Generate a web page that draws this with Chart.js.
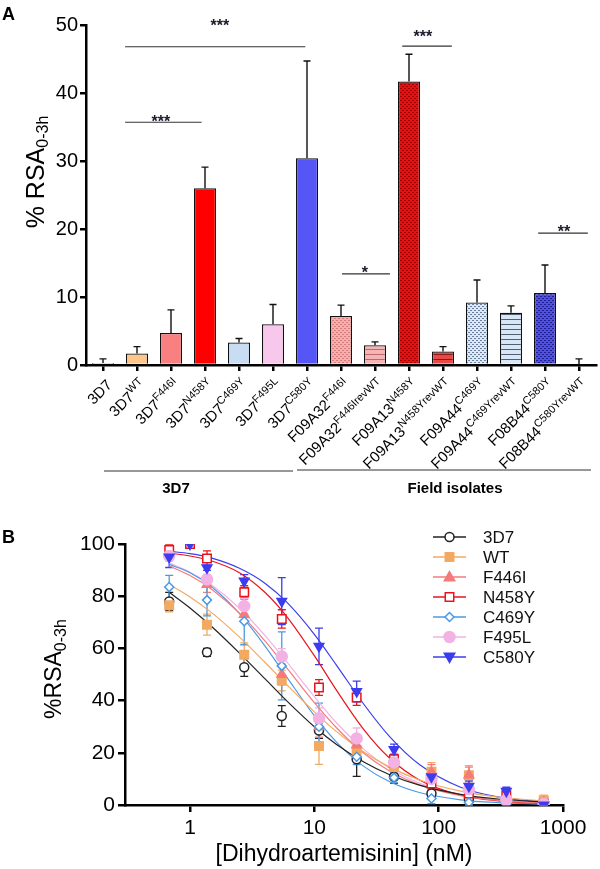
<!DOCTYPE html>
<html lang="en">
<head>
<meta charset="UTF-8" />
<title>RSA of K13 mutants</title>
<script src="https://cdn.jsdelivr.net/npm/chart.js"></script>
<style>
  body { margin: 0; background: #fff; }
  #wrapA { position: absolute; left: 0; top: 0; width: 600px; height: 505px; }
  #wrapB { position: absolute; left: 0; top: 505px; width: 600px; height: 364px; }
</style>
</head>
<body>
<div id="wrapA"><canvas id="rsaBars"></canvas></div>
<div id="wrapB"><canvas id="doseCurves"></canvas></div>

<script>
// ---- panel A data ----
const strainBase = ['3D7','3D7','3D7','3D7','3D7','3D7','3D7','F09A32','F09A32','F09A13','F09A13','F09A44','F09A44','F08B44','F08B44'];
const strainSup = ['','WT','F446I','N458Y','C469Y','F495L','C580Y','F446I','F446IrevWT','N458Y','N458YrevWT','C469Y','C469YrevWT','C580Y','C580YrevWT'];
const rsaMean = [0.3, 1.7, 4.7, 26.0, 3.3, 6.0, 30.4, 7.2, 2.9, 41.7, 2.0, 9.2, 7.7, 10.6, 0];
const rsaErr = [0.6, 1.0, 3.4, 3.1, 0.6, 2.9, 14.3, 1.6, 0.5, 4.0, 0.7, 3.3, 1.0, 4.1, 0.9];

// significance brackets (category index units / % RSA units)
const sigStart = [0.65, 0.65, 8.8, 7.03, 12.8];
const sigEnd = [5.95, 2.9, 10.26, 8.44, 14.26];
const sigLevel = [46.8, 35.7, 46.9, 13.4, 19.4];
const sigMark = ['***', '***', '***', '*', '**'];
const sigMarkX = [3.44, 1.7, 9.41, 7.7, 13.56];
const sigMarkY = [50.4, 36.3, 48.8, 14.1, 20.1];

// ---- panel B data ----
const conc = [0.68, 1, 1.37, 2.73, 5.47, 10.9, 21.9, 43.75, 87.5, 175, 350, 700];
const rsa3D7 = [78, null, 58.5, 52.8, 34.1, 28.5, 17.5, 10.8, 4.4, 2.5, 1.0, 0.3];
const sd3D7 = [3.5, null, 1.5, 3.5, 4, 3, 6.5, 2.5, 1.2, 1, 0.5, 0.5];
const rsaWT = [76.5, null, 69.1, 57.6, 47.7, 22.6, 21.0, 14.6, 12.7, 11.4, 2.0, 1.8];
const sdWT = [2.5, null, 4, 4.5, 4, 7, 3, 3, 3.5, 3, 1, 2];
const rsaF446I = [96.5, null, 84.5, 73, 50, 30, 23, 15.5, 12.5, 11.5, 3, 1];
const sdF446I = [2, null, 3, 3, 4, 4, 3, 3, 3, 3.5, 1, 1];
const rsaN458Y = [97.7, 100, 94.4, 81.5, 71.3, 45.0, 41.2, 17.5, 8.2, 4.4, 3.7, 0.5];
const sdN458Y = [2, 0, 3, 2.5, 3.5, 3, 3, 2, 2, 1.5, 1, 1];
const rsaC469Y = [83.5, null, 78.5, 70.4, 53.3, 30.0, 18.5, 10.5, 2.5, 1.0, 0.5, 0.3];
const sdC469Y = [4.5, null, 6, 9, 13, 9, 3, 2, 2, 1, 0.5, 0.5];
const rsaF495L = [95.4, null, 86.4, 76.2, 56.9, 33.2, 25.5, 16.3, 10, 6, 2, 0.5];
const sdF495L = [2, null, 2, 3, 3, 4, 4, 3, 3, 2, 1, 1];
const rsaC580Y = [95.0, 100, 90.9, 85.8, 78.1, 60.8, 43.5, 21.3, 10.8, 7.2, 5.3, 0];
const sdC580Y = [4, 0, 1, 2.5, 9, 7, 4, 2, 3, 2, 1.5, 0.5];

// fitted curves
const fitConc = [0.68, 1, 1.5, 2.5, 4, 6, 10, 15, 25, 40, 70, 150, 300, 700];
const fit3D7 = [81.5, 75.5, 68.3, 58.2, 48.4, 39.9, 30.0, 23.3, 16.5, 11.7, 7.6, 4.1, 2.3, 1.1];
const fitWT = [84.5, 79.7, 73.6, 64.3, 54.7, 46.1, 35.7, 28.2, 20.3, 14.6, 9.6, 5.3, 3.0, 1.5];
const fitF446I = [91.6, 87.9, 82.6, 73.5, 62.9, 52.5, 39.2, 29.7, 19.8, 13.1, 7.7, 3.6, 1.8, 0.7];
const fitN458Y = [96.5, 95.4, 93.5, 89.0, 81.5, 72.2, 57.2, 44.1, 28.9, 18.1, 9.6, 3.8, 1.6, 0.5];
const fitC469Y = [92.2, 89.0, 83.5, 73.3, 61.0, 49.0, 34.2, 24.2, 14.8, 9.0, 4.8, 2.0, 0.9, 0.3];
const fitF495L = [92.8, 89.2, 84.2, 75.4, 65.0, 54.8, 41.5, 31.6, 21.3, 14.2, 8.4, 4.0, 2.0, 0.8];
const fitC580Y = [97.2, 96.3, 94.6, 90.7, 85.0, 77.7, 65.4, 53.7, 38.6, 26.4, 15.5, 6.8, 3.1, 1.1];

const FONT = 'Arial, "Liberation Sans", sans-serif';

// ---- fills for panel A ----
function dotPattern(base, dot) {
  const c = document.createElement('canvas');
  c.width = 4; c.height = 4;
  const g = c.getContext('2d');
  g.fillStyle = base; g.fillRect(0, 0, 4, 4);
  g.fillStyle = dot;
  g.fillRect(0, 0, 2, 1); g.fillRect(2, 2, 2, 1);
  return g.createPattern(c, 'repeat');
}
function stripePattern(base, line) {
  const c = document.createElement('canvas');
  c.width = 4; c.height = 5;
  const g = c.getContext('2d');
  g.fillStyle = base; g.fillRect(0, 0, 4, 5);
  g.fillStyle = line; g.fillRect(0, 4, 4, 1);
  return g.createPattern(c, 'repeat');
}

const barFills = [
  '#ffffff', '#fdc78c', '#f88080', '#ff0000', '#c8dcf4', '#f7c7ec', '#5656f6',
  dotPattern('#f4b0b0', '#d77a7a'), stripePattern('#f6b4b4', '#b86a6a'),
  dotPattern('#e81010', '#a00000'), stripePattern('#e84848', '#8a1a1a'),
  dotPattern('#dce8f7', '#6a7f99'), stripePattern('#d8e6f6', '#4f5f78'),
  dotPattern('#5050e8', '#20208a'), '#ffffff'
];

const panelA = {
  id: 'panelA',
  afterDatasetsDraw(chart) {
    const ctx = chart.ctx, xs = chart.scales.x, ys = chart.scales.y;
    ctx.save();
    ctx.strokeStyle = '#111';
    ctx.lineWidth = 1.4;
    rsaMean.forEach((m, i) => {
      const x = xs.getPixelForValue(i);
      const y0 = ys.getPixelForValue(m);
      const y1 = ys.getPixelForValue(m + rsaErr[i]);
      ctx.beginPath();
      ctx.moveTo(x, y0); ctx.lineTo(x, y1);
      ctx.moveTo(x - 3.5, y1); ctx.lineTo(x + 3.5, y1);
      ctx.stroke();
    });
    // brackets
    ctx.strokeStyle = '#333';
    ctx.lineWidth = 1.2;
    ctx.fillStyle = '#1a1a2a';
    ctx.textAlign = 'center';
    ctx.textBaseline = 'middle';
    ctx.font = 'bold 16px ' + FONT;
    sigStart.forEach((s, i) => {
      const y = ys.getPixelForValue(sigLevel[i]);
      ctx.beginPath();
      ctx.moveTo(xs.getPixelForValue(s), y);
      ctx.lineTo(xs.getPixelForValue(sigEnd[i]), y);
      ctx.stroke();
      ctx.fillText(sigMark[i], xs.getPixelForValue(sigMarkX[i]), ys.getPixelForValue(sigMarkY[i]) + 4);
    });
    ctx.restore();
  },
  afterDraw(chart) {
    const ctx = chart.ctx, xs = chart.scales.x;
    ctx.save();
    ctx.fillStyle = '#000';
    // rotated strain labels with superscripts
    strainBase.forEach((b, i) => {
      const sup = strainSup[i];
      ctx.font = '15px ' + FONT;
      const wb = ctx.measureText(b).width;
      ctx.font = '11px ' + FONT;
      const ws = sup ? ctx.measureText(sup).width : 0;
      const x = xs.getPixelForValue(i);
      ctx.save();
      ctx.translate(x, 376);
      ctx.rotate(-Math.PI / 4);
      ctx.textAlign = 'left';
      ctx.textBaseline = 'alphabetic';
      ctx.font = '15px ' + FONT;
      ctx.fillText(b, -(wb + ws), 14);
      if (sup) {
        ctx.font = '11px ' + FONT;
        ctx.fillText(sup, -ws, 8);
      }
      ctx.restore();
    });
    // group lines
    ctx.strokeStyle = '#333';
    ctx.lineWidth = 1.2;
    ctx.beginPath();
    ctx.moveTo(104, 471); ctx.lineTo(293, 471);
    ctx.moveTo(297, 470); ctx.lineTo(591, 470);
    ctx.stroke();
    ctx.font = 'bold 15px ' + FONT;
    ctx.textAlign = 'center';
    ctx.textBaseline = 'middle';
    ctx.fillText('3D7', 176, 489);
    ctx.fillText('Field isolates', 455, 489);
    // y title
    ctx.save();
    ctx.translate(37, 172);
    ctx.rotate(-Math.PI / 2);
    ctx.font = '25px ' + FONT;
    const w1 = ctx.measureText('% RSA').width;
    ctx.font = '16px ' + FONT;
    const w2 = ctx.measureText('0-3h').width;
    ctx.textAlign = 'left';
    ctx.textBaseline = 'middle';
    ctx.font = '25px ' + FONT;
    ctx.fillText('% RSA', -(w1 + w2) / 2, 0);
    ctx.font = '16px ' + FONT;
    ctx.fillText('0-3h', -(w1 + w2) / 2 + w1, 7);
    ctx.restore();
    // panel letter
    ctx.font = 'bold 18px ' + FONT;
    ctx.textAlign = 'left';
    ctx.textBaseline = 'alphabetic';
    ctx.fillText('A', 2, 20);
    ctx.restore();
  }
};

new Chart(document.getElementById('rsaBars'), {
  type: 'bar',
  data: {
    labels: strainBase.map((b, i) => b + strainSup[i]),
    datasets: [{
      data: rsaMean,
      backgroundColor: barFills,
      borderColor: '#111',
      borderWidth: 1.3,
      barPercentage: 0.65,
      categoryPercentage: 1
    }]
  },
  options: {
    responsive: true,
    maintainAspectRatio: false,
    animation: false,
    layout: { padding: { top: 25, right: 4, left: 0, bottom: 0 } },
    plugins: { legend: { display: false }, tooltip: { enabled: false } },
    scales: {
      x: {
        offset: true,
        grid: { offset: false, drawOnChartArea: false, drawTicks: true, tickLength: 6, color: '#000', lineWidth: 2.5 },
        border: { color: '#000', width: 2.5 },
        ticks: { display: false },
        afterFit(s) { s.height = 140; }
      },
      y: {
        min: 0,
        max: 50,
        ticks: { stepSize: 10, color: '#000', font: { family: FONT, size: 20 }, padding: 2 },
        grid: { drawOnChartArea: false, tickLength: 6, color: '#000', lineWidth: 2.5 },
        border: { color: '#000', width: 2.5 },
        afterFit(s) { s.width = 86; }
      }
    }
  },
  plugins: [panelA]
});

// ---- panel B ----
const seriesB = [
  { name: '3D7', mean: rsa3D7, sd: sd3D7, fit: fit3D7, color: '#222222', style: 'circle', filled: false, r: 4.5, rot: 0 },
  { name: 'WT', mean: rsaWT, sd: sdWT, fit: fitWT, color: '#f2aa63', style: 'rect', filled: true, r: 6, rot: 0 },
  { name: 'F446I', mean: rsaF446I, sd: sdF446I, fit: fitF446I, color: '#f57a7a', style: 'triangle', filled: true, r: 5.5, rot: 0 },
  { name: 'N458Y', mean: rsaN458Y, sd: sdN458Y, fit: fitN458Y, color: '#e8141c', style: 'rect', filled: false, r: 6, rot: 0 },
  { name: 'C469Y', mean: rsaC469Y, sd: sdC469Y, fit: fitC469Y, color: '#4a9ae4', style: 'rectRot', filled: false, r: 4.5, rot: 0 },
  { name: 'F495L', mean: rsaF495L, sd: sdF495L, fit: fitF495L, color: '#f3b2e4', style: 'circle', filled: true, r: 5.5, rot: 0 },
  { name: 'C580Y', mean: rsaC580Y, sd: sdC580Y, fit: fitC580Y, color: '#3c3cee', style: 'triangle', filled: true, r: 5.5, rot: 180 }
];

function drawMarker(ctx, s, x, y) {
  ctx.save();
  ctx.translate(x, y);
  ctx.rotate(s.rot * Math.PI / 180);
  ctx.beginPath();
  const r = s.r;
  if (s.style === 'circle') {
    ctx.arc(0, 0, r, 0, Math.PI * 2);
  } else if (s.style === 'rect') {
    const h = r * 0.707;
    ctx.rect(-h, -h, 2 * h, 2 * h);
  } else if (s.style === 'rectRot') {
    ctx.moveTo(0, -r); ctx.lineTo(r, 0); ctx.lineTo(0, r); ctx.lineTo(-r, 0); ctx.closePath();
  } else {
    ctx.moveTo(0, -r); ctx.lineTo(r * 0.95, r * 0.7); ctx.lineTo(-r * 0.95, r * 0.7); ctx.closePath();
  }
  ctx.lineWidth = 1.5;
  ctx.strokeStyle = s.color;
  ctx.fillStyle = s.filled ? s.color : '#fff';
  ctx.fill();
  ctx.stroke();
  ctx.restore();
}

const panelB = {
  id: 'panelB',
  beforeDatasetsDraw(chart) {
    const ctx = chart.ctx, xs = chart.scales.x, ys = chart.scales.y;
    ctx.save();
    ctx.lineWidth = 1.3;
    seriesB.forEach(s => {
      ctx.strokeStyle = s.color;
      s.mean.forEach((m, i) => {
        if (m === null || !s.sd[i]) return;
        const x = xs.getPixelForValue(conc[i]);
        const lo = ys.getPixelForValue(Math.max(0, m - s.sd[i]));
        const hi = ys.getPixelForValue(m + s.sd[i]);
        ctx.beginPath();
        ctx.moveTo(x, lo); ctx.lineTo(x, hi);
        ctx.moveTo(x - 4, lo); ctx.lineTo(x + 4, lo);
        ctx.moveTo(x - 4, hi); ctx.lineTo(x + 4, hi);
        ctx.stroke();
      });
    });
    ctx.restore();
  },
  afterDraw(chart) {
    const ctx = chart.ctx;
    ctx.save();
    // legend
    seriesB.forEach((s, i) => {
      const y = 32 + i * 20;
      ctx.strokeStyle = s.color;
      ctx.lineWidth = 1.3;
      ctx.beginPath(); ctx.moveTo(433, y); ctx.lineTo(466, y); ctx.stroke();
      drawMarker(ctx, s, 449.5, y);
      ctx.fillStyle = '#111';
      ctx.font = '17px ' + FONT;
      ctx.textAlign = 'left';
      ctx.textBaseline = 'middle';
      ctx.fillText(s.name, 483, y + 1);
    });
    // axis titles
    ctx.fillStyle = '#000';
    ctx.font = '23px ' + FONT;
    ctx.textAlign = 'center';
    ctx.textBaseline = 'middle';
    ctx.fillText('[Dihydroartemisinin] (nM)', 344, 350);
    ctx.save();
    ctx.translate(55, 164);
    ctx.rotate(-Math.PI / 2);
    ctx.font = '23px ' + FONT;
    const w1 = ctx.measureText('%RSA').width;
    ctx.font = '16px ' + FONT;
    const w2 = ctx.measureText('0-3h').width;
    ctx.textAlign = 'left';
    ctx.font = '23px ' + FONT;
    ctx.fillText('%RSA', -(w1 + w2) / 2, 0);
    ctx.font = '16px ' + FONT;
    ctx.fillText('0-3h', -(w1 + w2) / 2 + w1, 7);
    ctx.restore();
    ctx.font = 'bold 18px ' + FONT;
    ctx.textAlign = 'left';
    ctx.textBaseline = 'alphabetic';
    ctx.fillText('B', 2, 38);
    ctx.restore();
  }
};

const datasetsB = [];
seriesB.forEach((s, k) => {
  datasetsB.push({
    type: 'scatter',
    data: conc.map((x, i) => ({ x: x, y: s.mean[i] })),
    pointStyle: s.style,
    pointRotation: s.rot,
    pointRadius: s.r,
    pointBorderWidth: 1.5,
    pointBackgroundColor: s.filled ? s.color : '#ffffff',
    pointBorderColor: s.color,
    showLine: false,
    order: 10 - k
  });
  datasetsB.push({
    type: 'line',
    data: fitConc.map((x, i) => ({ x: x, y: s.fit[i] })),
    borderColor: s.color,
    borderWidth: 1.2,
    pointRadius: 0,
    fill: false,
    cubicInterpolationMode: 'monotone',
    order: 20
  });
});

new Chart(document.getElementById('doseCurves'), {
  type: 'scatter',
  data: { datasets: datasetsB },
  options: {
    responsive: true,
    maintainAspectRatio: false,
    animation: false,
    layout: { padding: { top: 39, right: 37, left: 0, bottom: 0 } },
    plugins: { legend: { display: false }, tooltip: { enabled: false } },
    scales: {
      x: {
        type: 'logarithmic',
        min: 0.31,
        max: 1000,
        afterBuildTicks(s) { s.ticks = [1, 10, 100, 1000].map(v => ({ value: v })); },
        ticks: { color: '#000', font: { family: FONT, size: 21 }, padding: 4, maxRotation: 0, callback: v => String(v) },
        grid: { drawOnChartArea: false, tickLength: 7, color: '#000', lineWidth: 2.5 },
        border: { color: '#000', width: 2.5 },
        afterFit(s) { s.height = 64; }
      },
      y: {
        min: 0,
        max: 100,
        ticks: { stepSize: 10, color: '#000', font: { family: FONT, size: 21 }, padding: 3, callback: v => (v % 20 === 0 ? v : '') },
        grid: { drawOnChartArea: false, tickLength: 7, color: '#000', lineWidth: 2.5 },
        border: { color: '#000', width: 2.5 },
        afterFit(s) { s.width = 125; }
      }
    }
  },
  plugins: [panelB]
});
</script>
</body>
</html>
